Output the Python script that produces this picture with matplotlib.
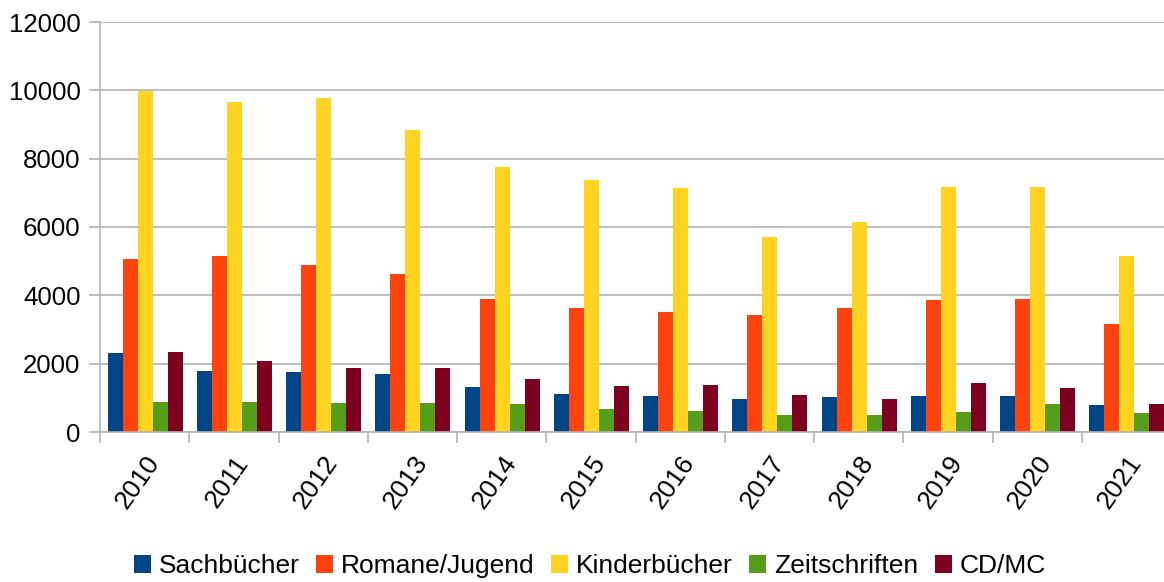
import matplotlib
matplotlib.use("Agg")
import matplotlib.pyplot as plt
import numpy as np

plt.rcParams['font.family'] = ['Liberation Sans', 'DejaVu Sans']

years = ["2010", "2011", "2012", "2013", "2014", "2015", "2016", "2017", "2018", "2019", "2020", "2021"]
sachbuecher = [2300, 1800, 1745, 1690, 1310, 1100, 1040, 955, 1010, 1040, 1040, 780]
romane = [5050, 5140, 4875, 4610, 3880, 3620, 3520, 3410, 3620, 3850, 3880, 3150]
kinder = [9990, 9670, 9790, 8850, 7770, 7390, 7130, 5720, 6160, 7180, 7180, 5160]
zeitschriften = [870, 870, 840, 840, 810, 660, 610, 490, 490, 575, 810, 545]
cdmc = [2330, 2070, 1860, 1860, 1540, 1360, 1390, 1070, 955, 1420, 1280, 810]

series = [("Sachbücher", sachbuecher, "#004586"),
          ("Romane/Jugend", romane, "#ff420e"),
          ("Kinderbücher", kinder, "#ffd320"),
          ("Zeitschriften", zeitschriften, "#579d1c"),
          ("CD/MC", cdmc, "#7e0021")]

fig = plt.figure(figsize=(11.64, 5.82), dpi=100)
ax = fig.add_axes([100/1164, 150/582, 1071/1164, 410/582])

x = np.arange(len(years))
w = 0.168
for i, (name, vals, col) in enumerate(series):
    ax.bar(x + 0.006 + (i - 2) * w, vals, width=w, color=col, label=name, zorder=3)

ax.set_xlim(-0.5, len(years) - 0.5)
ax.set_ylim(0, 12000)
ax.set_yticks(range(0, 12001, 2000))
ax.set_yticklabels([str(v) for v in range(0, 12001, 2000)], fontsize=18.6)
ax.yaxis.grid(True, color="#b3b3b3", linewidth=1.2, zorder=0)
ax.set_axisbelow(True)

ax.set_xticks(np.arange(-0.5, len(years), 1.0))
ax.set_xticklabels([])
ax.set_xticks(x, minor=True)
ax.set_xticklabels(years, minor=True, fontsize=19, rotation=55,
                   ha="right", va="top", rotation_mode="anchor")
ax.tick_params(axis="x", which="minor", length=0, pad=14)
ax.tick_params(axis="x", which="major", length=8, color="#b3b3b3", width=1.2)
ax.tick_params(axis="y", length=8, color="#b3b3b3", width=1.2, pad=6)

for s in ["top", "right"]:
    ax.spines[s].set_visible(False)
for s in ["left", "bottom"]:
    ax.spines[s].set_color("#b3b3b3")
    ax.spines[s].set_linewidth(1.2)
    ax.spines[s].set_zorder(4)

fig.legend(loc="center", bbox_to_anchor=(590/1164, 1 - 566/582), ncol=5,
           frameon=False, fontsize=19, handlelength=0.65, handleheight=0.65,
           handletextpad=0.3, columnspacing=0.62)

fig.savefig("out.png", dpi=100)
